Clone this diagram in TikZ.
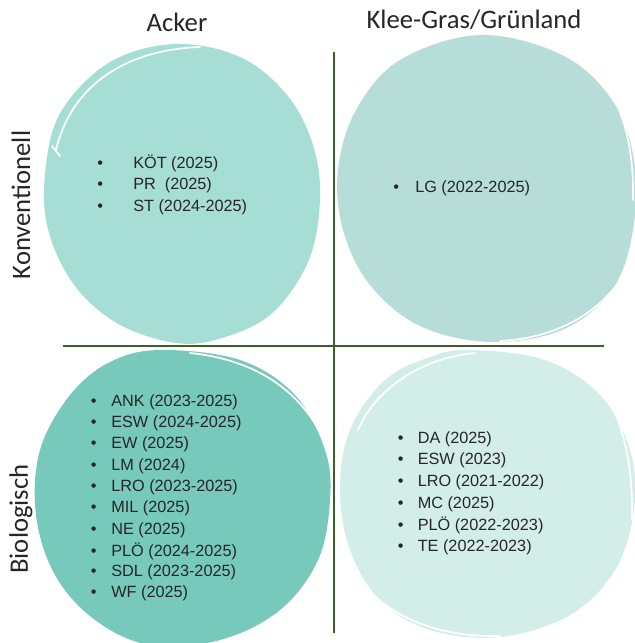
\documentclass[tikz,border=0pt]{standalone}
\usepackage{fontspec}
\setmainfont{Liberation Sans}
\newfontfamily\headfont{Carlito}
\definecolor{blobTL}{HTML}{A6DED6}
\definecolor{blobTR}{HTML}{B6DDD8}
\definecolor{blobBL}{HTML}{77C9BB}
\definecolor{blobBR}{HTML}{D3EEE9}
\definecolor{axisgreen}{HTML}{3B5E2B}
\tikzset{
  blob/.style={draw=none},
  sketch/.style={draw=white, line width=1.3pt, line cap=round},
  axis/.style={draw=axisgreen, line width=1.6pt},
  head/.style={font=\headfont\fontsize{20}{24}\selectfont, inner sep=0pt, text=black!85},
  item/.style={font=\fontsize{12.2}{14}\selectfont, anchor=west, inner sep=0pt, text=black!85},
}
\begin{document}
\begin{tikzpicture}[x=0.75pt,y=-0.75pt]
\clip (0,0) rectangle (635,643);
\fill[white] (0,0) rectangle (635,643);
% blobs
\fill[blobTL] plot[smooth cycle, tension=0.6] coordinates {(175,44) (240,57) (287,95) (313,145) (320,200) (308,262) (270,315) (215,340) (170,342) (115,322) (72,282) (47,225) (46,165) (62,110) (110,62)};
\fill[blobTR] plot[smooth cycle, tension=0.6] coordinates {(480,35) (562,55) (612,100) (634,160) (633,230) (612,290) (562,330) (490,342) (420,326) (370,285) (343,230) (338,170) (356,110) (400,60)};
\fill[blobBL] plot[smooth cycle, tension=0.6] coordinates {(160,350) (240,360) (295,395) (325,450) (330,500) (318,560) (280,610) (220,640) (150,645) (95,620) (55,575) (36,515) (40,450) (70,395) (110,362)};
\fill[blobBR] plot[smooth cycle, tension=0.6] coordinates {(470,350) (545,360) (600,395) (630,450) (634,510) (615,570) (570,615) (500,637) (430,630) (380,600) (350,550) (340,490) (350,430) (385,380) (430,357)};
% sketchy white strokes
\draw[sketch] (56,150) .. controls (70,90) and (120,50) .. (200,47);
\draw[sketch] (52,146) -- (60,156);
\draw[sketch] (598,70) .. controls (625,110) and (634,150) .. (633,200);
\draw[sketch] (500,341) .. controls (560,338) and (600,310) .. (620,280);
\draw[sketch] (190,353) .. controls (260,360) and (305,395) .. (326,445);
\draw[sketch] (358,430) .. controls (375,390) and (420,358) .. (475,353);
\draw[sketch] (605,395) .. controls (625,425) and (633,470) .. (632,520);
\draw[sketch] (350,560) .. controls (370,610) and (430,638) .. (500,636);
% axes
\coordinate (vtop) at (334,52);
\coordinate (vbot) at (334,633);
\coordinate (hleft) at (63,346);
\coordinate (hright) at (604,346);
\draw[axis] (vtop) -- (vbot);
\draw[axis] (hleft) -- (hright);
% headers
\node[head] (acker) at (177,22) {Acker};
\node[head] (klee) at (474,20) {Klee-Gras/Grünland};
\node[head, rotate=90] (konv) at (21,205) {Konventionell};
\node[head, rotate=90] (bio) at (21,519) {Biologisch};
% top-left
\node[item] (tl1) at (97,163) {\makebox[27pt][l]{•}KÖT (2025)};
\node[item] (tl2) at (97,185) {\makebox[27pt][l]{•}PR\ \ (2025)};
\node[item] (tl3) at (97,207) {\makebox[27pt][l]{•}ST (2024-2025)};
% top-right
\node[item] (tr1) at (393,188) {\makebox[16.5pt][l]{•}LG (2022-2025)};
% bottom-left
\node[item] (bl1) at (90.5,402) {\makebox[15.4pt][l]{•}ANK (2023-2025)};
\node[item] (bl2) at (90.5,423.3) {\makebox[15.4pt][l]{•}ESW (2024-2025)};
\node[item] (bl3) at (90.5,444.6) {\makebox[15.4pt][l]{•}EW (2025)};
\node[item] (bl4) at (90.5,465.9) {\makebox[15.4pt][l]{•}LM (2024)};
\node[item] (bl5) at (90.5,487.2) {\makebox[15.4pt][l]{•}LRO (2023-2025)};
\node[item] (bl6) at (90.5,508.5) {\makebox[15.4pt][l]{•}MIL (2025)};
\node[item] (bl7) at (90.5,529.8) {\makebox[15.4pt][l]{•}NE (2025)};
\node[item] (bl8) at (90.5,551.1) {\makebox[15.4pt][l]{•}PLÖ (2024-2025)};
\node[item] (bl9) at (90.5,572.4) {\makebox[15.4pt][l]{•}SDL (2023-2025)};
\node[item] (bl10) at (90.5,593.7) {\makebox[15.4pt][l]{•}WF (2025)};
% bottom-right
\node[item] (br1) at (397.5,439) {\makebox[15pt][l]{•}DA (2025)};
\node[item] (br2) at (397.5,460.6) {\makebox[15pt][l]{•}ESW (2023)};
\node[item] (br3) at (397.5,482.2) {\makebox[15pt][l]{•}LRO (2021-2022)};
\node[item] (br4) at (397.5,503.8) {\makebox[15pt][l]{•}MC (2025)};
\node[item] (br5) at (397.5,525.4) {\makebox[15pt][l]{•}PLÖ (2022-2023)};
\node[item] (br6) at (397.5,547) {\makebox[15pt][l]{•}TE (2022-2023)};
\end{tikzpicture}
\end{document}
